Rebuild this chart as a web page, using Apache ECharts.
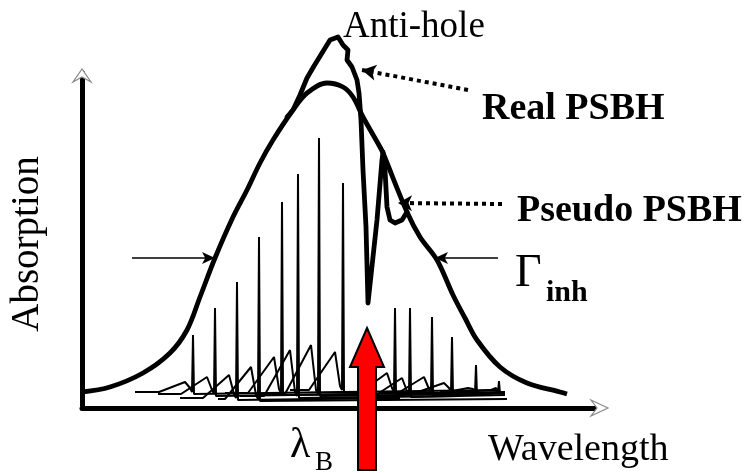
<!DOCTYPE html>
<html>
<head>
<meta charset="utf-8">
<script src="https://cdn.jsdelivr.net/npm/echarts@6/dist/echarts.min.js"></script>
<style>
  html, body { margin: 0; padding: 0; background: #fff; }
  #chart { width: 748px; height: 473px; }
</style>
</head>
<body>
<div id="chart"></div>
<script>
// Inhomogeneously broadened absorption band (wavelength, absorption), arbitrary units
const bandProfile = [
  [0, 16], [28, 21], [61, 35], [88, 55], [105, 78], [118, 111], [133, 150],
  [151, 191], [165, 218], [178, 245], [191, 268], [211, 298], [225, 315],
  [245, 325], [261, 321], [271, 311], [281, 291], [298, 261], [301, 255],
  [325, 196], [338, 171], [355, 148], [371, 113], [383, 90], [395, 68],
  [418, 41], [445, 25], [478, 16], [485, 14]
];

// Band after burning: anti-hole, persistent spectral hole and pseudo phonon side band hole
const burntProfile = [
  [205, 291], [211, 298], [218, 313], [225, 330], [232, 342], [240, 355],
  [248, 368], [256, 371], [261, 363], [266, 358], [265, 348], [270, 341],
  [275, 328], [277, 315], [279, 288], [281, 238], [284, 181], [286, 105],
  [295, 188], [300, 248], [301, 256], [303, 238], [305, 201], [308, 188],
  [313, 185], [320, 188], [325, 196]
];

// Single-site spectra: zero-phonon line position, its peak, the baseline level,
// the extent of the trace and the top of the phonon wing
const siteLine  = [111, 133, 155, 177, 200, 216, 237, 261, 313, 328, 350, 370, 394, 417];
const sitePeak  = [73, 100, 126, 171, 206, 234, 270, 225, 100, 100, 91, 71, 43, 27];
const siteBase  = [16, 14, 10, 9, 15, 12, 14, 18, 16, 13, 15, 16, 15, 16];
const siteStart = [53, 76, 98, 136, 143, 158, 178, 208, 258, 278, 298, 318, 338, 358];
const siteEnd   = [258, 288, 318, 425, 348, 378, 398, 418, 423, 423, 423, 423, 418, 421];
const siteWing  = [26, 31, 33, 41, 51, 58, 63, 56, 35, 30, 31, 25, 20, 18];

// Burn wavelength and where the burning-laser arrow tip points
const burnLambda = 285;
const burnTip = 80;

// Annotation arrows: FWHM markers and pointers to the hole features
const widthMarkers = [[[50, 150], [133, 150]], [[416, 150], [353, 150]]];
const realPointer = [[386, 318], [280, 338]];
const pseudoPointer = [[420, 204], [316, 205]];

// Axis extents (visible axes) and the full plotting frame for the drawing layer
const xMax = 513, yMax = 335;
const frameXMax = 513, frameYMax = 408;

const SERIF = '"Liberation Serif", "Times New Roman", Times, serif';

function siteTrace(i) {
  const xs = siteLine[i], b = siteBase[i];
  return [
    [siteStart[i], b], [xs - 34, b], [xs - 8, siteWing[i]], [xs - 3, b + 4],
    [xs - 1, b], [xs, sitePeak[i]], [xs + 1, b - 2], [xs + 3, b], [siteEnd[i], b]
  ];
}

const onFrame = { xAxisIndex: 1, yAxisIndex: 1 };

const siteSeries = siteLine.map((_, i) => Object.assign({
  type: 'line',
  data: siteTrace(i),
  symbol: 'none',
  lineStyle: { color: '#000', width: 2 },
  z: 2,
  silent: true
}, onFrame));

const hiddenAxis = {
  show: false, axisLine: { show: false }, axisTick: { show: false },
  axisLabel: { show: false }, splitLine: { show: false }
};
const shownAxis = {
  axisTick: { show: false }, axisLabel: { show: false }, splitLine: { show: false }
};

const chart = echarts.init(document.getElementById('chart'), null, { renderer: 'canvas' });

chart.setOption({
  animation: false,
  backgroundColor: '#fff',
  grid: [
    { left: 82, right: 153, top: 73, bottom: 65, containLabel: false },
    { left: 82, right: 153, top: 0, bottom: 65, containLabel: false }
  ],
  xAxis: [
    Object.assign({ type: 'value', min: 0, max: xMax, gridIndex: 0,
      axisLine: { show: true, onZero: false, lineStyle: { color: '#000', width: 5 } } }, shownAxis),
    Object.assign({ type: 'value', min: 0, max: frameXMax, gridIndex: 1 }, hiddenAxis)
  ],
  yAxis: [
    Object.assign({ type: 'value', min: 0, max: yMax, gridIndex: 0,
      axisLine: { show: true, onZero: false, lineStyle: { color: '#000', width: 5 } } }, shownAxis),
    Object.assign({ type: 'value', min: 0, max: frameYMax, gridIndex: 1 }, hiddenAxis)
  ],
  series: [
    ...siteSeries,
    Object.assign({
      type: 'line',
      name: 'band',
      data: bandProfile,
      smooth: 0.35,
      symbol: 'none',
      lineStyle: { color: '#000', width: 4.8 },
      z: 4,
      silent: true,
      markLine: {
        silent: true,
        symbol: ['none', 'arrow'],
        symbolSize: [9, 13],
        label: { show: false },
        lineStyle: { color: '#000', width: 1.5, type: 'solid' },
        data: widthMarkers.map(m => [{ coord: m[0] }, { coord: m[1] }]).concat([
          [{ coord: realPointer[0], lineStyle: { type: [4, 4], width: 4 } },
           { coord: realPointer[1], symbolSize: [12, 14] }],
          [{ coord: pseudoPointer[0], lineStyle: { type: [4, 4], width: 4 } },
           { coord: pseudoPointer[1], symbolSize: [12, 14] }]
        ])
      }
    }, onFrame),
    Object.assign({
      type: 'line',
      name: 'burnt',
      data: burntProfile,
      smooth: false,
      symbol: 'none',
      lineStyle: { color: '#000', width: 4.8, join: 'round', cap: 'round' },
      z: 5,
      silent: true
    }, onFrame),
    Object.assign({
      // burning laser arrow at the burn wavelength
      type: 'custom',
      data: [[burnLambda, burnTip]],
      clip: false,
      z: 20,
      silent: true,
      renderItem: function (params, api) {
        const p = api.coord([api.value(0), api.value(1)]);
        const headLen = 39, headHalf = 17, shaftHalf = 9, length = 142;
        const x = p[0], y = p[1];
        return {
          type: 'polygon',
          shape: {
            points: [
              [x, y], [x + headHalf, y + headLen], [x + shaftHalf, y + headLen],
              [x + shaftHalf, y + length], [x - shaftHalf, y + length],
              [x - shaftHalf, y + headLen], [x - headHalf, y + headLen]
            ]
          },
          style: { fill: '#ff0000', stroke: '#000', lineWidth: 2 }
        };
      }
    }, onFrame),
    {
      // open arrowheads at the ends of both axes
      type: 'custom',
      data: [[xMax, 0, 0], [0, yMax, 1]],
      clip: false,
      z: 15,
      silent: true,
      renderItem: function (params, api) {
        const p = api.coord([api.value(0), api.value(1)]);
        const vertical = api.value(2) === 1;
        const x = p[0], y = p[1];
        const pts = vertical
          ? [[x, y - 4], [x + 9, y + 9], [x, y + 4], [x - 9, y + 9]]
          : [[x + 13, y], [x - 4, y - 8], [x + 2, y], [x - 4, y + 8]];
        return {
          type: 'polygon',
          shape: { points: pts },
          style: { fill: '#fff', stroke: '#888', lineWidth: 1.2 }
        };
      }
    }
  ],
  graphic: [
    { type: 'text', x: 343, y: 27, silent: true,
      style: { text: 'Anti-hole', font: '37px ' + SERIF, fill: '#000', textAlign: 'left', textVerticalAlign: 'middle' } },
    { type: 'text', x: 482, y: 109, silent: true,
      style: { text: 'Real PSBH', font: 'bold 38px ' + SERIF, fill: '#000', textAlign: 'left', textVerticalAlign: 'middle' } },
    { type: 'text', x: 517, y: 211, silent: true,
      style: { text: 'Pseudo PSBH', font: 'bold 38px ' + SERIF, fill: '#000', textAlign: 'left', textVerticalAlign: 'middle' } },
    { type: 'text', x: 515, y: 274, silent: true,
      style: { text: 'Γ', font: '46px ' + SERIF, fill: '#000', textAlign: 'left', textVerticalAlign: 'middle' } },
    { type: 'text', x: 546, y: 293, silent: true,
      style: { text: 'inh', font: 'bold 30px ' + SERIF, fill: '#000', textAlign: 'left', textVerticalAlign: 'middle' } },
    { type: 'text', x: 290, y: 446, silent: true,
      style: { text: 'λ', font: '42px ' + SERIF, fill: '#000', textAlign: 'left', textVerticalAlign: 'middle' } },
    { type: 'text', x: 315, y: 463, silent: true,
      style: { text: 'B', font: '27px ' + SERIF, fill: '#000', textAlign: 'left', textVerticalAlign: 'middle' } },
    { type: 'text', x: 488, y: 450, silent: true,
      style: { text: 'Wavelength', font: '38px ' + SERIF, fill: '#000', textAlign: 'left', textVerticalAlign: 'middle' } },
    { type: 'text', x: 28, y: 244, rotation: Math.PI / 2, silent: true,
      style: { text: 'Absorption', font: '39px ' + SERIF, fill: '#000', textAlign: 'center', textVerticalAlign: 'middle' } }
  ]
});
</script>
</body>
</html>
